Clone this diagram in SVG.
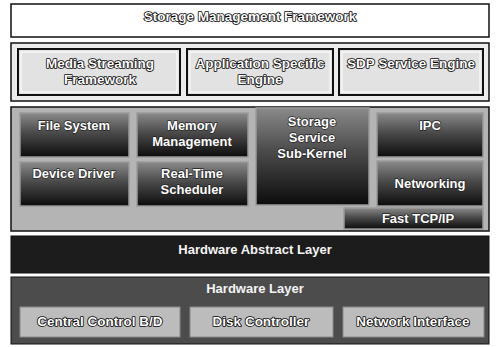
<svg xmlns="http://www.w3.org/2000/svg" width="497" height="347" viewBox="0 0 497 347">
<style>
text{font-family:"Liberation Sans",Arial,sans-serif;font-weight:bold;font-size:13px;text-anchor:middle}
.hollow{fill:#fff;stroke:#000;stroke-width:1.6px;paint-order:stroke;stroke-linejoin:round;font-size:13.5px}
.wt{fill:#fff;stroke:#222;stroke-width:1.4px;paint-order:stroke;stroke-linejoin:round}
.plain{fill:#f4f4f4}
.panel{stroke:#111;stroke-width:1.5}
.app{fill:#e2e2e2;stroke:#111;stroke-width:2}
.appin{fill:none;stroke:#fff;stroke-width:1}
.kern{fill:url(#dk);stroke:#9a9a9a;stroke-width:1.5}
.hw{fill:#bcbcbc;stroke:#888;stroke-width:1}
</style>
<defs>
<linearGradient id="dk" x1="0" y1="0" x2="0" y2="1">
<stop offset="0" stop-color="#8a8a8a"/>
<stop offset="0.45" stop-color="#4a4a4a"/>
<stop offset="1" stop-color="#0c0c0c"/>
</linearGradient>
</defs>
<rect width="497" height="347" fill="#fff"/>

<g id="smf">
<rect x="11" y="4" width="478" height="33" fill="#fff" stroke="#111" stroke-width="1.5"/>
<text class="hollow" x="250" y="21">Storage Management Framework</text>
</g>

<g id="app-layer">
<rect class="panel" x="11" y="43" width="478" height="58" fill="#ececec"/>
</g>
<g id="media">
<rect class="app" x="18" y="49" width="162" height="46"/>
<rect class="appin" x="21" y="52" width="156" height="40"/>
<text class="hollow" x="100" y="68">Media Streaming</text>
<text class="hollow" x="100" y="84">Framework</text>
</g>
<g id="ase">
<rect class="app" x="187" y="49" width="146" height="46"/>
<rect class="appin" x="190" y="52" width="140" height="40"/>
<text class="hollow" x="260" y="68">Application Specific</text>
<text class="hollow" x="260" y="84">Engine</text>
</g>
<g id="sdp">
<rect class="app" x="339" y="49" width="144" height="46"/>
<rect class="appin" x="342" y="52" width="138" height="40"/>
<text class="hollow" x="411" y="68">SDP Service Engine</text>
</g>

<g id="kernel-layer">
<rect class="panel" x="11" y="107" width="478" height="124" fill="#b4b4b4"/>
</g>
<g id="fs">
<rect class="kern" x="20" y="113" width="109" height="44"/>
<text class="wt" x="74" y="130">File System</text>
</g>
<g id="mm">
<rect class="kern" x="137" y="113" width="111" height="44"/>
<text class="wt" x="192" y="130">Memory</text>
<text class="wt" x="192" y="146">Management</text>
</g>
<g id="dd">
<rect class="kern" x="20" y="162" width="109" height="44"/>
<text class="wt" x="74" y="178">Device Driver</text>
</g>
<g id="rts">
<rect class="kern" x="137" y="162" width="111" height="44"/>
<text class="wt" x="192" y="178">Real-Time</text>
<text class="wt" x="192" y="194">Scheduler</text>
</g>
<g id="sssk">
<rect class="kern" x="256" y="108" width="113" height="97"/>
<text class="wt" x="312" y="126">Storage</text>
<text class="wt" x="312" y="142">Service</text>
<text class="wt" x="312" y="158">Sub-Kernel</text>
</g>
<g id="ipc">
<rect class="kern" x="377" y="113" width="106" height="44"/>
<text class="wt" x="430" y="130">IPC</text>
</g>
<g id="net">
<rect class="kern" x="377" y="161" width="106" height="45"/>
<text class="wt" x="430" y="188">Networking</text>
</g>
<g id="tcp">
<rect class="kern" x="344" y="208" width="139" height="21"/>
<text class="wt" x="418" y="223">Fast TCP/IP</text>
</g>

<g id="hal">
<rect x="11" y="236" width="478" height="37" fill="#1c1c1c" stroke="#111" stroke-width="1"/>
<text class="plain" x="255" y="254">Hardware Abstract Layer</text>
</g>

<g id="hw-layer">
<rect x="11" y="277" width="478" height="67" fill="#4c4c4c" stroke="#111" stroke-width="1"/>
<text class="plain" x="255" y="293">Hardware Layer</text>
</g>
<g id="ccbd">
<rect class="hw" x="20" y="307" width="160" height="30"/>
<text class="hollow" x="100" y="326">Central Control B/D</text>
</g>
<g id="disk">
<rect class="hw" x="190" y="307" width="143" height="30"/>
<text class="hollow" x="261" y="326">Disk Controller</text>
</g>
<g id="ni">
<rect class="hw" x="343" y="307" width="141" height="30"/>
<text class="hollow" x="413" y="326">Network Interface</text>
</g>

<g id="connectors"></g>
</svg>
